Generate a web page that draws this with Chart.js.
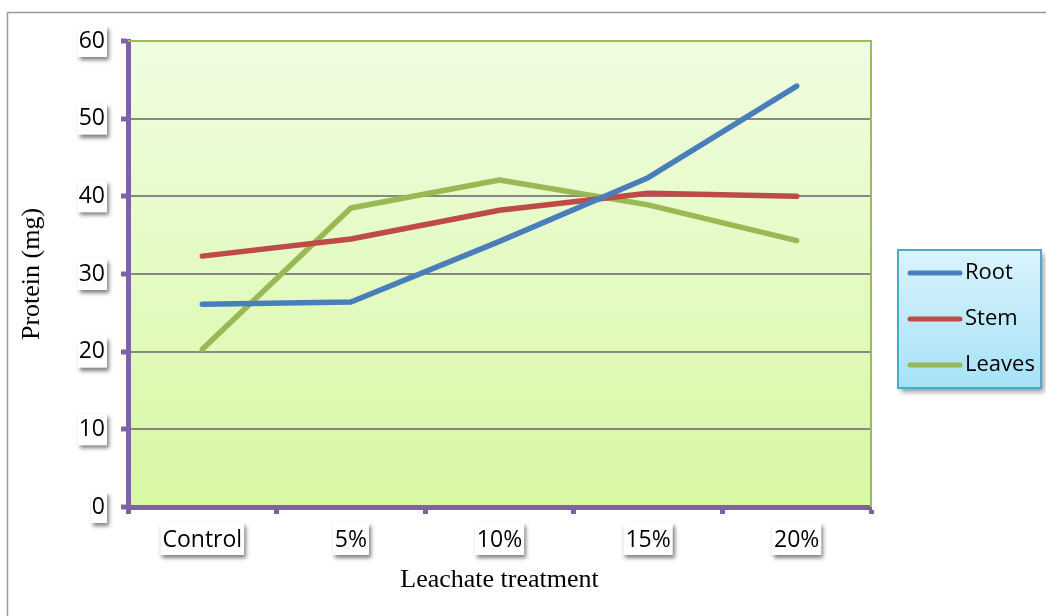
<!DOCTYPE html>
<html><head><meta charset="utf-8">
<script src="https://cdn.jsdelivr.net/npm/chart.js@4.4.1/dist/chart.umd.min.js"></script>
<style>html,body{margin:0;padding:0;background:#fff;}#wrap{width:1046px;height:616px;position:relative;}</style>
</head><body><div id="wrap"><canvas id="c"></canvas></div>
<script>
const categories = ['Control', '5%', '10%', '15%', '20%'];
const rootValues = [26.1, 26.4, 34.2, 42.4, 54.2];
const stemValues = [32.3, 34.5, 38.2, 40.4, 40.0];
const leavesValues = [20.3, 38.5, 42.1, 38.9, 34.3];
const yTickValues = [0, 10, 20, 30, 40, 50, 60];
const seriesNames = ['Root', 'Stem', 'Leaves'];
const seriesColors = ['#4a7ebb', '#be4b48', '#98b954'];

const PURPLE = '#7f62a4';
const GRID = '#878787';
const PLOT_BORDER = '#9cbb5a';
const TICK_FONT = {family: '"Open Sans", sans-serif', size: 23};
const TITLE_FONT = {family: '"Liberation Serif", "Times New Roman", serif', size: 26, lineHeight: 1};

function fontStr(f) { return f.size + 'px ' + f.family; }

const backgroundPlugin = {
  id: 'bg',
  beforeDraw(chart) {
    const ctx = chart.ctx, a = chart.chartArea;
    ctx.save();
    ctx.fillStyle = '#ffffff';
    ctx.fillRect(0, 0, chart.width, chart.height);
    ctx.strokeStyle = '#9a9a9a';
    ctx.lineWidth = 1.5;
    ctx.strokeRect(7.5, 12.5, chart.width + 20, chart.height + 20);
    const g = ctx.createLinearGradient(0, a.top, 0, a.bottom);
    g.addColorStop(0, '#f0fde1');
    g.addColorStop(1, '#d7f8a3');
    ctx.fillStyle = g;
    ctx.fillRect(a.left, a.top, a.right - a.left, a.bottom - a.top);
    ctx.font = fontStr(TICK_FONT);
    ctx.shadowColor = 'rgba(0,0,0,0.5)';
    ctx.shadowBlur = 4;
    ctx.shadowOffsetX = 2;
    ctx.shadowOffsetY = 3;
    ctx.fillStyle = '#ffffff';
    const ys = chart.scales.y;
    ys.ticks.forEach((t, i) => {
      const py = ys.getPixelForTick(i);
      const w = ctx.measureText(String(t.label)).width;
      const right = a.left - 7 - 16 + 2;
      ctx.fillRect(right - w - 3, py - 15, w + 3, 31);
    });
    const xs = chart.scales.x;
    xs.ticks.forEach((t, i) => {
      const px = xs.getPixelForTick(i);
      const w = ctx.measureText(String(t.label)).width;
      ctx.fillRect(px - w / 2 - 2, a.bottom + 16, w + 4, 32);
    });
    ctx.restore();
  },
  beforeDatasetsDraw(chart) {
    const ctx = chart.ctx, a = chart.chartArea;
    ctx.save();
    ctx.strokeStyle = PLOT_BORDER;
    ctx.lineWidth = 2;
    ctx.beginPath();
    ctx.moveTo(a.left, a.top);
    ctx.lineTo(a.right, a.top);
    ctx.lineTo(a.right, a.bottom);
    ctx.stroke();
    ctx.restore();
  }
};

const legendPlugin = {
  id: 'customLegend',
  afterDraw(chart) {
    const ctx = chart.ctx;
    const bx = 898, by = 250, bw = 143, bh = 138;
    ctx.save();
    ctx.shadowColor = 'rgba(0,0,0,0.4)';
    ctx.shadowBlur = 5;
    ctx.shadowOffsetX = 3;
    ctx.shadowOffsetY = 4;
    const g = ctx.createLinearGradient(0, by, 0, by + bh);
    g.addColorStop(0, '#d9f3fc');
    g.addColorStop(1, '#a6e2f7');
    ctx.fillStyle = g;
    ctx.fillRect(bx, by, bw, bh);
    ctx.shadowColor = 'transparent';
    ctx.strokeStyle = '#4aaac8';
    ctx.lineWidth = 2;
    ctx.strokeRect(bx, by, bw, bh);
    ctx.font = '22px "Open Sans", sans-serif';
    ctx.textBaseline = 'middle';
    ctx.lineCap = 'round';
    chart.data.datasets.forEach((ds, i) => {
      const y = 273 + i * 46;
      ctx.strokeStyle = ds.borderColor;
      ctx.lineWidth = 5;
      ctx.beginPath();
      ctx.moveTo(910, y);
      ctx.lineTo(960, y);
      ctx.stroke();
      ctx.fillStyle = '#000';
      ctx.fillText(ds.label, 965, y);
    });
    ctx.restore();
  }
};

const allValues = [rootValues, stemValues, leavesValues];

new Chart(document.getElementById('c'), {
  type: 'line',
  data: {
    labels: categories,
    datasets: seriesNames.map((n, i) => ({
      label: n,
      data: allValues[i],
      borderColor: seriesColors[i],
      backgroundColor: seriesColors[i],
      borderWidth: 5.5,
      pointRadius: 0,
      tension: 0,
      borderCapStyle: 'round',
      borderJoinStyle: 'round'
    }))
  },
  options: {
    responsive: true,
    maintainAspectRatio: false,
    animation: false,
    layout: {padding: {left: 0, top: 41, right: 175, bottom: 0}},
    plugins: {legend: {display: false}, tooltip: {enabled: false}},
    scales: {
      x: {
        offset: true,
        afterFit: s => { s.height = 109; },
        grid: {offset: true, drawOnChartArea: false, drawTicks: true, tickLength: 7, tickColor: PURPLE, tickWidth: 5},
        border: {display: true, color: PURPLE, width: 5},
        ticks: {font: TICK_FONT, color: '#000', padding: 13, maxRotation: 0},
        title: {display: true, text: 'Leachate treatment', font: TITLE_FONT, color: '#000', padding: {top: 0, bottom: 23}}
      },
      y: {
        min: 0, max: 60,
        afterBuildTicks: s => { s.ticks = yTickValues.map(v => ({value: v})); },
        afterFit: s => { s.width = 128; },
        grid: {
          color: c => (c.tick && c.tick.value === 60) ? PLOT_BORDER : GRID,
          lineWidth: 2,
          tickLength: 7, tickColor: PURPLE, tickWidth: 5
        },
        border: {display: true, color: PURPLE, width: 5},
        ticks: {font: TICK_FONT, color: '#000', padding: 16},
        title: {display: true, text: 'Protein (mg)', font: TITLE_FONT, color: '#000', padding: {top: 19, bottom: 0}}
      }
    }
  },
  plugins: [backgroundPlugin, legendPlugin]
});
</script></body></html>
